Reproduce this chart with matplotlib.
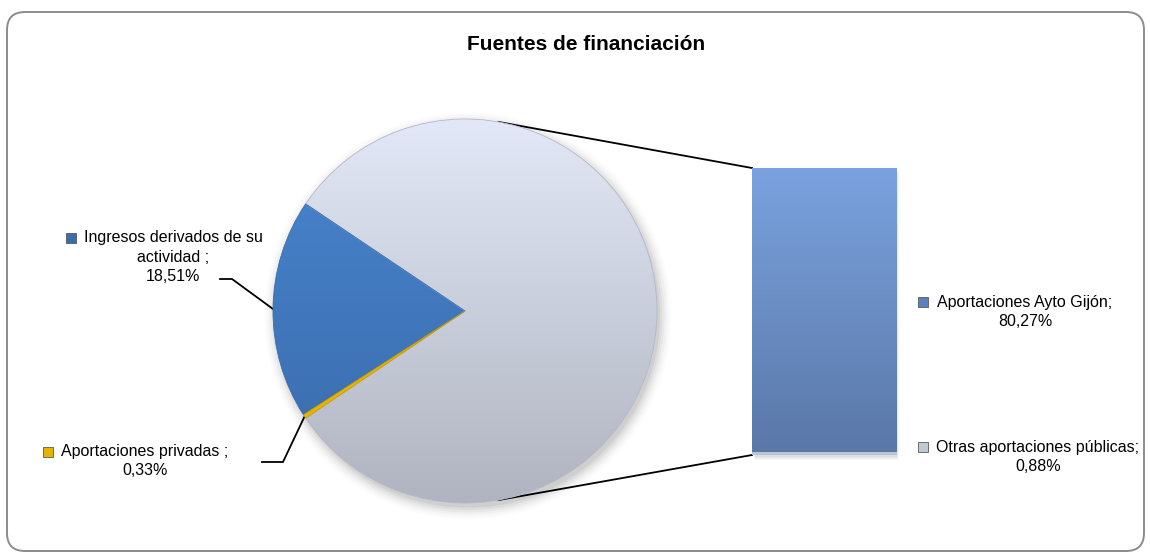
import numpy as np
import matplotlib.pyplot as plt
from matplotlib.patches import FancyBboxPatch, Circle, Rectangle
from matplotlib.colors import LinearSegmentedColormap

# === Data ===
TITLE = "Fuentes de financiación"
pie_names = ["Aportaciones\npúblicas ;", "Ingresos derivados de su\nactividad ;", "Aportaciones privadas ;"]
pie_values = [81.16, 18.51, 0.33]
bar_names = ["Otras aportaciones públicas;", "Aportaciones Ayto Gijón;"]
bar_values = [0.88, 80.27]


def pct(v):
    return f"{v:.2f}".replace(".", ",") + "%"


# === Figure setup (pixel layout) ===
W, H = 1150, 556
plt.rcParams['font.family'] = ['Liberation Sans', 'DejaVu Sans']
fig = plt.figure(figsize=(W / 100, H / 100), dpi=100)


def box(left, top, width, height):
    return [left / W, (H - top - height) / H, width / W, height / H]


def gradient(ax, patch, top, bottom, extent):
    cmap = LinearSegmentedColormap.from_list("g", [bottom, top])
    grad = np.linspace(0, 1, 256).reshape(-1, 1)
    im = ax.imshow(grad, cmap=cmap, origin="lower", extent=extent,
                   aspect="auto", interpolation="bilinear", zorder=0.5)
    im.set_clip_path(patch)
    patch.set_facecolor("none")


# background layer: frame, title, labels, leader lines
over = fig.add_axes([0, 0, 1, 1])
over.set_xlim(0, W)
over.set_ylim(H, 0)
over.axis("off")
over.patch.set_visible(False)

frame = FancyBboxPatch((7, 12), W - 13, H - 17, boxstyle="round,pad=0,rounding_size=18",
                       facecolor="white", edgecolor="#8c8c8c", linewidth=1.4)
over.add_patch(frame)
over.text(586, 45, TITLE, ha="center", va="center", fontsize=15, fontweight="bold")

# === Pie ===
ax_pie = fig.add_axes(box(273, 119, 384, 384))
# soft shadow under the pie
for i, a in enumerate(np.linspace(0.05, 0.012, 6)):
    ax_pie.add_patch(Circle((0.015, -0.025), 1.0 + 0.012 * i, facecolor="#000000",
                            alpha=a, edgecolor="none", clip_on=False, zorder=0.1))
start = -pie_values[0] / sum(pie_values) * 360 / 2  # "other" slice centred on the right
wedges, _ = ax_pie.pie(pie_values, startangle=start, radius=1,
                       colors=["#cfd4e2", "#4178c0", "#e6b400"],
                       wedgeprops=dict(linewidth=0.6, edgecolor="#b4b9c6"))
wedges[1].set_edgecolor("#3a6cae")
wedges[2].set_edgecolor("#c89c00")
gradient(ax_pie, wedges[0], "#e2e8f7", "#b0b4c0", [-1, 1, -1, 1])
gradient(ax_pie, wedges[1], "#4a86d0", "#386aaa", [-1, 1, -1, 1])
ax_pie.set_xlim(-1, 1)
ax_pie.set_ylim(-1, 1)
ax_pie.set_aspect("auto")
ax_pie.axis("off")

# === Bar ===
ax_bar = fig.add_axes(box(752, 168, 145, 287))
total = sum(bar_values)
for i in range(4):
    ax_bar.add_patch(Rectangle((-0.49 + 0.004 * i, -total * (0.006 + 0.004 * i)), 0.99, total,
                               facecolor="#000000", alpha=0.03, edgecolor="none",
                               clip_on=False, zorder=0.1))
bottoms = np.concatenate([[0], np.cumsum(bar_values)[:-1]])
bars = ax_bar.bar([0] * len(bar_values), bar_values, bottom=bottoms, width=1,
                  color=["#bcc3d4", "#6a90cc"], edgecolor="none")
gradient(ax_bar, bars[1], "#7aa2de", "#5a78a8", [-0.5, 0.5, bottoms[1], total])
ax_bar.set_xlim(-0.5, 0.5)
ax_bar.set_ylim(0, total)
ax_bar.axis("off")

to_px = over.transData.inverted()


def pie_px(angle_deg):
    a = np.deg2rad(angle_deg)
    return to_px.transform(ax_pie.transData.transform((np.cos(a), np.sin(a))))


def bar_px(x, y):
    return to_px.transform(ax_bar.transData.transform((x, y)))


# connector lines pie -> bar
for ang, y in [(80, total), (-80, 0)]:
    p0 = pie_px(ang)
    p1 = bar_px(-0.5, y)
    over.plot([p0[0], p1[0]], [p0[1], p1[1]], color="black", lw=1.3)

# leader lines
mid = [(w.theta1 + w.theta2) / 2 for w in wedges]
p = pie_px(mid[1])
over.plot([220, 232, p[0]], [279, 279, p[1]], color="black", lw=1.3)
p = pie_px(mid[2])
over.plot([262, 283, p[0]], [462, 462, p[1]], color="black", lw=1.3)

# === Labels ===
fs = 11.5
labels = [
    (pie_names[1] + "\n" + pct(pie_values[1]), 173, 257, 71, 238, "#3a6cae"),
    (pie_names[2] + "\n" + pct(pie_values[2]), 145, 461, 48, 452, "#e6b400"),
    (pie_names[0] + "\n" + pct(pie_values[0]), 586, 333, 525, 314, "#c2c7d4"),
    (bar_names[1] + "\n" + pct(bar_values[1]), 1025, 312, 923, 302, "#5a80c0"),
    (bar_names[0] + "\n" + pct(bar_values[0]), 1038, 457, 923, 447, "#c2c7d4"),
]
for txt, tx, ty, mx, my, col in labels:
    over.text(tx, ty, txt, ha="center", va="center", multialignment="center",
              fontsize=fs, linespacing=1.38, zorder=5)
    over.plot(mx, my, marker="s", markersize=6.5, color=col,
              markeredgecolor="#555a66", markeredgewidth=0.6, zorder=5)

fig.savefig("out.png", dpi=100)
